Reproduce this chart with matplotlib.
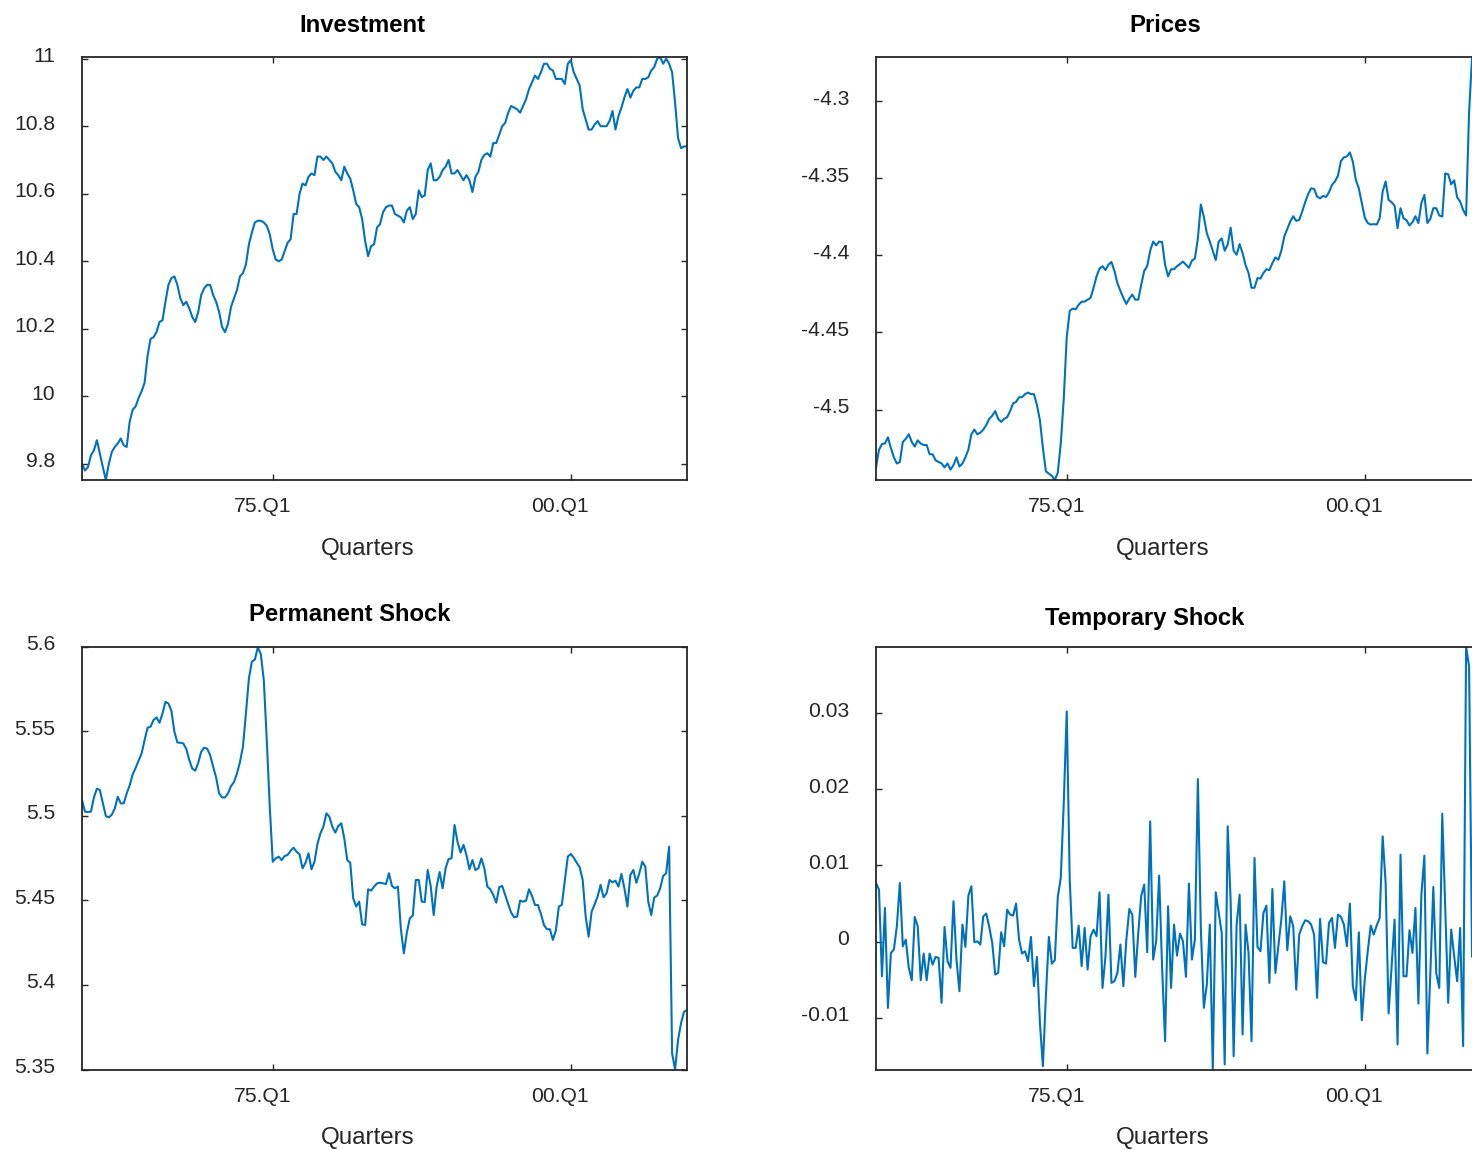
import numpy as np
import matplotlib.pyplot as plt
from matplotlib.transforms import ScaledTranslation

plt.rcParams['font.family'] = ['Liberation Sans', 'DejaVu Sans']
plt.rcParams['axes.unicode_minus'] = False

# quarterly series, 1959Q1 .. 2009Q4
investment = [
    9.80, 9.78, 9.79, 9.825, 9.84, 9.87, 9.83, 9.79, 9.752, 9.80,
    9.835, 9.85, 9.86, 9.875, 9.855, 9.85, 9.925, 9.96, 9.97, 9.995,
    10.015, 10.04, 10.12, 10.17, 10.175, 10.19, 10.22, 10.225, 10.28, 10.33,
    10.35, 10.355, 10.33, 10.29, 10.27, 10.28, 10.26, 10.235, 10.22, 10.25,
    10.30, 10.32, 10.33, 10.33, 10.30, 10.28, 10.25, 10.205, 10.19, 10.215,
    10.265, 10.29, 10.315, 10.355, 10.365, 10.39, 10.45, 10.485, 10.515, 10.52,
    10.52, 10.515, 10.505, 10.48, 10.435, 10.405, 10.40, 10.405, 10.43, 10.455,
    10.465, 10.54, 10.54, 10.60, 10.63, 10.625, 10.65, 10.66, 10.655, 10.71,
    10.71, 10.70, 10.71, 10.70, 10.69, 10.665, 10.655, 10.64, 10.68, 10.66,
    10.645, 10.61, 10.57, 10.56, 10.525, 10.46, 10.415, 10.445, 10.45, 10.50,
    10.51, 10.545, 10.56, 10.565, 10.565, 10.54, 10.535, 10.53, 10.515, 10.55,
    10.56, 10.525, 10.54, 10.61, 10.59, 10.595, 10.67, 10.69, 10.64, 10.64,
    10.65, 10.67, 10.68, 10.70, 10.66, 10.66, 10.67, 10.655, 10.64, 10.655,
    10.64, 10.605, 10.65, 10.665, 10.70, 10.715, 10.72, 10.71, 10.75, 10.75,
    10.775, 10.80, 10.81, 10.84, 10.86, 10.855, 10.85, 10.84, 10.86, 10.88,
    10.91, 10.93, 10.95, 10.94, 10.96, 10.985, 10.985, 10.97, 10.965, 10.94,
    10.94, 10.94, 10.925, 10.985, 10.995, 10.96, 10.94, 10.92, 10.85, 10.82,
    10.79, 10.79, 10.805, 10.815, 10.80, 10.80, 10.80, 10.815, 10.845, 10.79,
    10.83, 10.855, 10.885, 10.91, 10.885, 10.905, 10.915, 10.915, 10.94, 10.94,
    10.945, 10.965, 10.975, 11.0, 11.005, 10.985, 11.0, 10.985, 10.96, 10.87,
    10.765, 10.735, 10.74, 10.74,
]

prices = [
    -4.5375, -4.5261, -4.5224, -4.522, -4.518, -4.525, -4.531, -4.535, -4.534, -4.521,
    -4.519, -4.516, -4.521, -4.524, -4.520, -4.522, -4.523, -4.523, -4.529, -4.529,
    -4.533, -4.534, -4.535, -4.5375, -4.535, -4.539, -4.536, -4.531, -4.537, -4.535,
    -4.531, -4.526, -4.516, -4.513, -4.516, -4.515, -4.513, -4.510, -4.506, -4.504,
    -4.501, -4.506, -4.508, -4.506, -4.505, -4.501, -4.496, -4.495, -4.492, -4.492,
    -4.490, -4.489, -4.490, -4.490, -4.497, -4.507, -4.525, -4.540, -4.5416, -4.543,
    -4.5457, -4.541, -4.522, -4.493, -4.453, -4.436, -4.4345, -4.435, -4.432, -4.430,
    -4.430, -4.4287, -4.4276, -4.421, -4.4136, -4.4086, -4.407, -4.4095, -4.406, -4.4043,
    -4.410, -4.418, -4.423, -4.4276, -4.4315, -4.428, -4.4254, -4.4287, -4.4287, -4.419,
    -4.410, -4.407, -4.397, -4.391, -4.3935, -4.391, -4.3914, -4.406, -4.4136, -4.409,
    -4.409, -4.407, -4.4056, -4.404, -4.406, -4.408, -4.4034, -4.402, -4.389, -4.367,
    -4.375, -4.3856, -4.391, -4.397, -4.403, -4.391, -4.389, -4.397, -4.393, -4.382,
    -4.397, -4.3996, -4.3927, -4.3985, -4.4063, -4.4114, -4.421, -4.421, -4.4147, -4.415,
    -4.4114, -4.409, -4.4095, -4.405, -4.4013, -4.4028, -4.397, -4.3877, -4.3828, -4.378,
    -4.3746, -4.3776, -4.377, -4.3716, -4.3655, -4.3603, -4.3565, -4.3569, -4.3619, -4.363,
    -4.3614, -4.3621, -4.359, -4.3543, -4.352, -4.3483, -4.3388, -4.3364, -4.3358, -4.3332,
    -4.3392, -4.351, -4.3565, -4.366, -4.3754, -4.379, -4.380, -4.3797, -4.380, -4.3759,
    -4.3586, -4.352, -4.364, -4.3655, -4.3677, -4.3823, -4.3694, -4.3759, -4.3772, -4.3806,
    -4.3784, -4.3746, -4.379, -4.366, -4.3608, -4.379, -4.3763, -4.3694, -4.3694, -4.3741,
    -4.3748, -4.3468, -4.3474, -4.3539, -4.3513, -4.3623, -4.3651, -4.3705, -4.3741, -4.307,
    -4.2713, -4.28, -4.29, -4.285,
]

permanent = [
    5.5093, 5.5024, 5.5022, 5.5024, 5.5108, 5.516, 5.5152, 5.5073, 5.4998, 5.499,
    5.5006, 5.5043, 5.5112, 5.5073, 5.5073, 5.5132, 5.5179, 5.5244, 5.5283, 5.5325,
    5.5368, 5.5447, 5.552, 5.5526, 5.5565, 5.5581, 5.5549, 5.5604, 5.5673, 5.5663,
    5.562, 5.5496, 5.5433, 5.5431, 5.5427, 5.5394, 5.5329, 5.5278, 5.5266, 5.5313,
    5.5378, 5.5402, 5.5396, 5.5358, 5.5289, 5.5226, 5.5132, 5.5108, 5.5108, 5.5132,
    5.5175, 5.5199, 5.525, 5.5317, 5.5407, 5.5604, 5.5811, 5.5911, 5.5923, 5.5995,
    5.5955, 5.5801, 5.5447, 5.5053, 5.4728, 5.4748, 5.4758, 5.4738, 5.4762, 5.4768,
    5.4793, 5.4811, 5.4787, 5.4772, 5.4689, 5.4722, 5.4778, 5.4683, 5.4728, 5.4833,
    5.4896, 5.4935, 5.5014, 5.4994, 5.4935, 5.49, 5.4939, 5.4955, 5.4866, 5.4738,
    5.4722, 5.4512, 5.4463, 5.4492, 5.4358, 5.4354, 5.4565, 5.4557, 5.4581, 5.46,
    5.4604, 5.46, 5.4596, 5.466, 5.4585, 5.4571, 5.4581, 5.4329, 5.4187, 5.4309,
    5.4394, 5.441, 5.462, 5.462, 5.4492, 5.449, 5.4679, 5.4585, 5.4413, 5.4581,
    5.4667, 5.4571, 5.4689, 5.4744, 5.4748, 5.4945, 5.4846, 5.4783, 5.4827, 5.4768,
    5.4683, 5.4738, 5.4679, 5.4689, 5.4748, 5.4689, 5.4581, 5.4565, 5.4531, 5.4486,
    5.4577, 5.4585, 5.4531, 5.4478, 5.4427, 5.44, 5.4404, 5.4498, 5.4492, 5.4498,
    5.4565, 5.4526, 5.4472, 5.4472, 5.4419, 5.4354, 5.4329, 5.4329, 5.4266, 5.4321,
    5.4463, 5.4473, 5.4616, 5.4758, 5.4774, 5.4752, 5.4722, 5.4695, 5.462, 5.4404,
    5.4285, 5.4433, 5.4476, 5.4522, 5.4591, 5.4518, 5.4541, 5.462, 5.4606, 5.4616,
    5.4581, 5.4656, 5.4571, 5.4463, 5.465, 5.4679, 5.4604, 5.4659, 5.4728, 5.4699,
    5.4492, 5.4413, 5.4516, 5.4528, 5.4571, 5.4644, 5.4659, 5.4817, 5.3596, 5.35,
    5.3675, 5.3774, 5.3841, 5.3852,
]

temporary = [
    0.00769, 0.00682, -0.00455, 0.00442, -0.0087, -0.00149, -0.00105, 0.00201, 0.00769, -0.00061,
    0.00026, -0.00345, -0.00507, 0.00323, 0.00201, -0.00507, -0.00157, -0.00507, -0.00157, -0.00302,
    -0.00201, -0.00214, -0.00804, 0.00192, -0.00258, -0.00345, 0.00529, -0.00236, -0.00651, 0.00223,
    -0.0007, 0.00603, 0.00726, -0.00009, 0.00004, -0.00039, 0.00332, 0.00367, 0.00192, -0.00017,
    -0.00433, -0.00411, 0.00122, -0.00061, 0.0042, 0.00354, 0.00341, 0.00498, 0.00026, -0.00157,
    -0.00127, -0.00258, 0.00061, -0.00586, -0.00201, -0.01067, -0.01635, -0.00717, 0.00061, -0.00289,
    -0.00245, 0.00586, 0.00835, 0.01819, 0.03021, 0.00813, -0.00083, -0.00083, 0.0021, -0.00323,
    0.00179, -0.00367, 0.0007, 0.00157, 0.0007, 0.00647, -0.00608, -0.00192, 0.00616, -0.00542,
    -0.0052, -0.00411, -0.00039, -0.00586, 0.00026, 0.00428, 0.00354, -0.00463, 0.00114, 0.00603,
    0.00748, -0.0014, 0.01578, -0.00236, 0.00004, 0.00866, -0.00345, -0.01307, 0.00463, -0.00608,
    0.00223, -0.00184, 0.00105, 0.00004, -0.00463, 0.00761, -0.00236, 0.00026, 0.02133, 0.00157,
    -0.0087, -0.00564, 0.00223, -0.01679, 0.00647, 0.00376, 0.00114, -0.01613, 0.01513, 0.00529,
    -0.01504, 0.00223, 0.00616, -0.0122, 0.00223, -0.00149, -0.01307, 0.01097, -0.0007, -0.00127,
    0.00376, 0.00472, -0.00542, 0.00691, -0.00411, -0.00061, 0.00289, 0.00791, -0.00114, 0.00332,
    0.00201, -0.0063, 0.00092, 0.00201, 0.0028, 0.00267, 0.00223, 0.00092, -0.00739, 0.00297,
    -0.00271, -0.00289, 0.00245, 0.0031, -0.00083, 0.00354, 0.00323, 0.00223, -0.00061, 0.00498,
    -0.00586, -0.00769, 0.00122, -0.01032, -0.00498, -0.00127, 0.0021, 0.00092, 0.0021, 0.0031,
    0.01381, 0.00769, -0.00944, -0.00323, 0.00289, -0.01351, 0.01141, -0.00455, -0.00455, 0.00149,
    -0.00149, 0.00442, -0.00813, 0.00616, 0.01128, -0.01469, -0.00411, 0.00717, -0.0042, -0.00608,
    0.01679, 0.00428, -0.00804, 0.00157, -0.00192, -0.0052, 0.00179, -0.01373, 0.03873, 0.03611,
    -0.002, 0.002, -0.001, 0.001,
]

quarter_ticks = [65, 165]
quarter_labels = ['75.Q1', '00.Q1']

investment_ticks = [9.8, 10, 10.2, 10.4, 10.6, 10.8, 11]
prices_ticks = [-4.5, -4.45, -4.4, -4.35, -4.3]
permanent_ticks = [5.35, 5.4, 5.45, 5.5, 5.55, 5.6]
temporary_ticks = [-0.01, 0, 0.01, 0.02, 0.03]

LINE = '#0072BD'
AXC = '#262626'

fig = plt.figure(figsize=(14.72, 11.5), dpi=100)

W, H = 605 / 1472, 423 / 1150
panels = [
    # (series, title, yticks, rect, title x, title y, xlabel x)
    (investment, 'Investment', investment_ticks, [82 / 1472, 1 - 480 / 1150, W, H], 0.4636, 1.0598, 0.4717),
    (prices, 'Prices', prices_ticks, [876 / 1472, 1 - 480 / 1150, W, H], 0.4777, 1.0598, 0.4736),
    (permanent, 'Permanent Shock', permanent_ticks, [82 / 1472, 0.07, W, H], 0.4425, 1.0599, 0.4717),
    (temporary, 'Temporary Shock', temporary_ticks, [876 / 1472, 0.07, W, H], 0.4446, 1.0504, 0.4736),
]

xshift = ScaledTranslation(-10.5 / 100, 0, fig.dpi_scale_trans)
yshift = ScaledTranslation(0, 4 / 100, fig.dpi_scale_trans)

for series, title, yticks, rect, tx, ty, lx in panels:
    ax = fig.add_axes(rect)
    y = np.array(series)
    t = np.arange(1, len(y) + 1)
    ax.plot(t, y, color=LINE, lw=1.5)

    ax.set_xlim(1, len(y))
    ax.set_ylim(y.min(), y.max())
    ax.set_xticks(quarter_ticks)
    ax.set_xticklabels(quarter_labels)
    ax.set_yticks(yticks)
    ax.set_yticklabels(['%g' % v for v in yticks])

    for s in ax.spines.values():
        s.set_color(AXC)
        s.set_linewidth(1.3)
    ax.tick_params(direction='in', length=4.6, width=1.0, color=AXC,
                   top=True, right=True, labelsize=15.2, labelcolor=AXC)
    ax.tick_params(axis='x', pad=12.5)
    ax.tick_params(axis='y', pad=19.2)
    for lab in ax.get_xticklabels():
        lab.set_transform(lab.get_transform() + xshift)
    for lab in ax.get_yticklabels():
        lab.set_transform(lab.get_transform() + yshift)

    ax.text(tx, ty, title, transform=ax.transAxes, ha='center', va='baseline',
            fontsize=17.2, fontweight='bold', color='black')
    ax.set_xlabel('Quarters', fontsize=17.4, color=AXC)
    ax.xaxis.set_label_coords(lx, -0.136)

fig.savefig('out.png', dpi=100)
